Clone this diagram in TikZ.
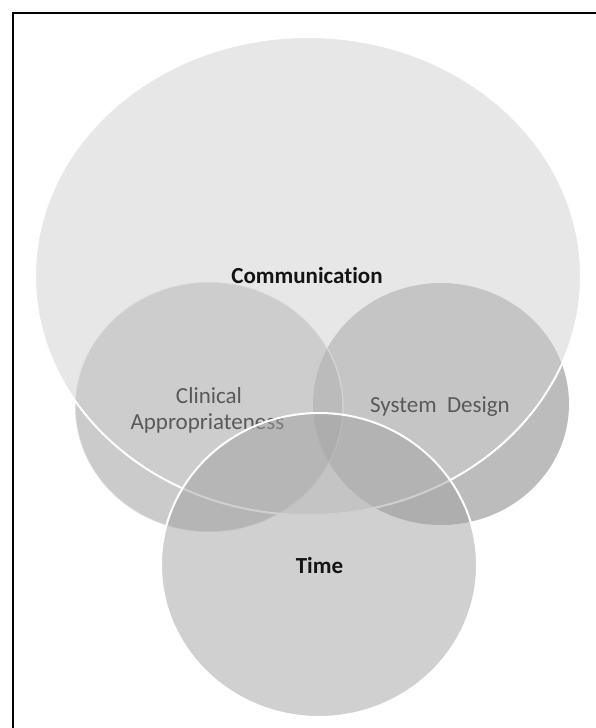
\documentclass[tikz,border=0pt]{standalone}
\usepackage{fontspec}
\setmainfont{Carlito}[Ligatures=NoCommon]
\definecolor{gS}{RGB}{121,121,121}
\definecolor{gC}{RGB}{151,151,151}
\definecolor{gM}{RGB}{207,207,207}
\definecolor{gT}{RGB}{161,161,161}
\definecolor{txtgray}{RGB}{89,89,89}
\definecolor{txtdark}{RGB}{20,20,20}
\tikzset{
  setshape/.style={fill opacity=0.5},
  lbl/.style={anchor=base, inner sep=0pt, font=\fontsize{23}{27}\selectfont},
  lblbold/.style={lbl, font=\fontsize{23}{27}\selectfont\bfseries, text=txtdark},
  lblgray/.style={lbl, text=txtgray, align=center},
}
\begin{document}
\begin{tikzpicture}[x=1pt,y=-1pt]
\useasboundingbox (0,0) rectangle (596,728);
% frame (top and left edges)
\draw[line width=2.2pt] (13,728) -- (13,13) -- (596,13);
% System Design
\fill[gS, setshape] (441,404) ellipse [x radius=128, y radius=121];
% Clinical Appropriateness
\fill[gC, setshape] (209,407) ellipse [x radius=134, y radius=125];
\draw[white, draw opacity=0.45, line width=1.5pt] (209,407) ellipse [x radius=134, y radius=125];
% Communication
\fill[gM, setshape] (308,276) ellipse [x radius=273, y radius=239];
\draw[white, line width=2pt] (308,276) ellipse [x radius=273, y radius=239];
\node[lblbold] (comm) at (307,283) {Communication};
\node[lblgray] (sys) at (440,412) {System\ \ Design};
\node[lblgray] (clin1) at (209,403) {Clinical};
\node[lblgray] (clin2) at (207.5,429) {Appropriateness};
% Time
\fill[gT, setshape] (319,565) ellipse [x radius=158, y radius=152];
\draw[white, line width=2pt] (319,565) ellipse [x radius=158, y radius=152];
\node[lblbold] (time) at (319.5,573) {Time};
\end{tikzpicture}
\end{document}
